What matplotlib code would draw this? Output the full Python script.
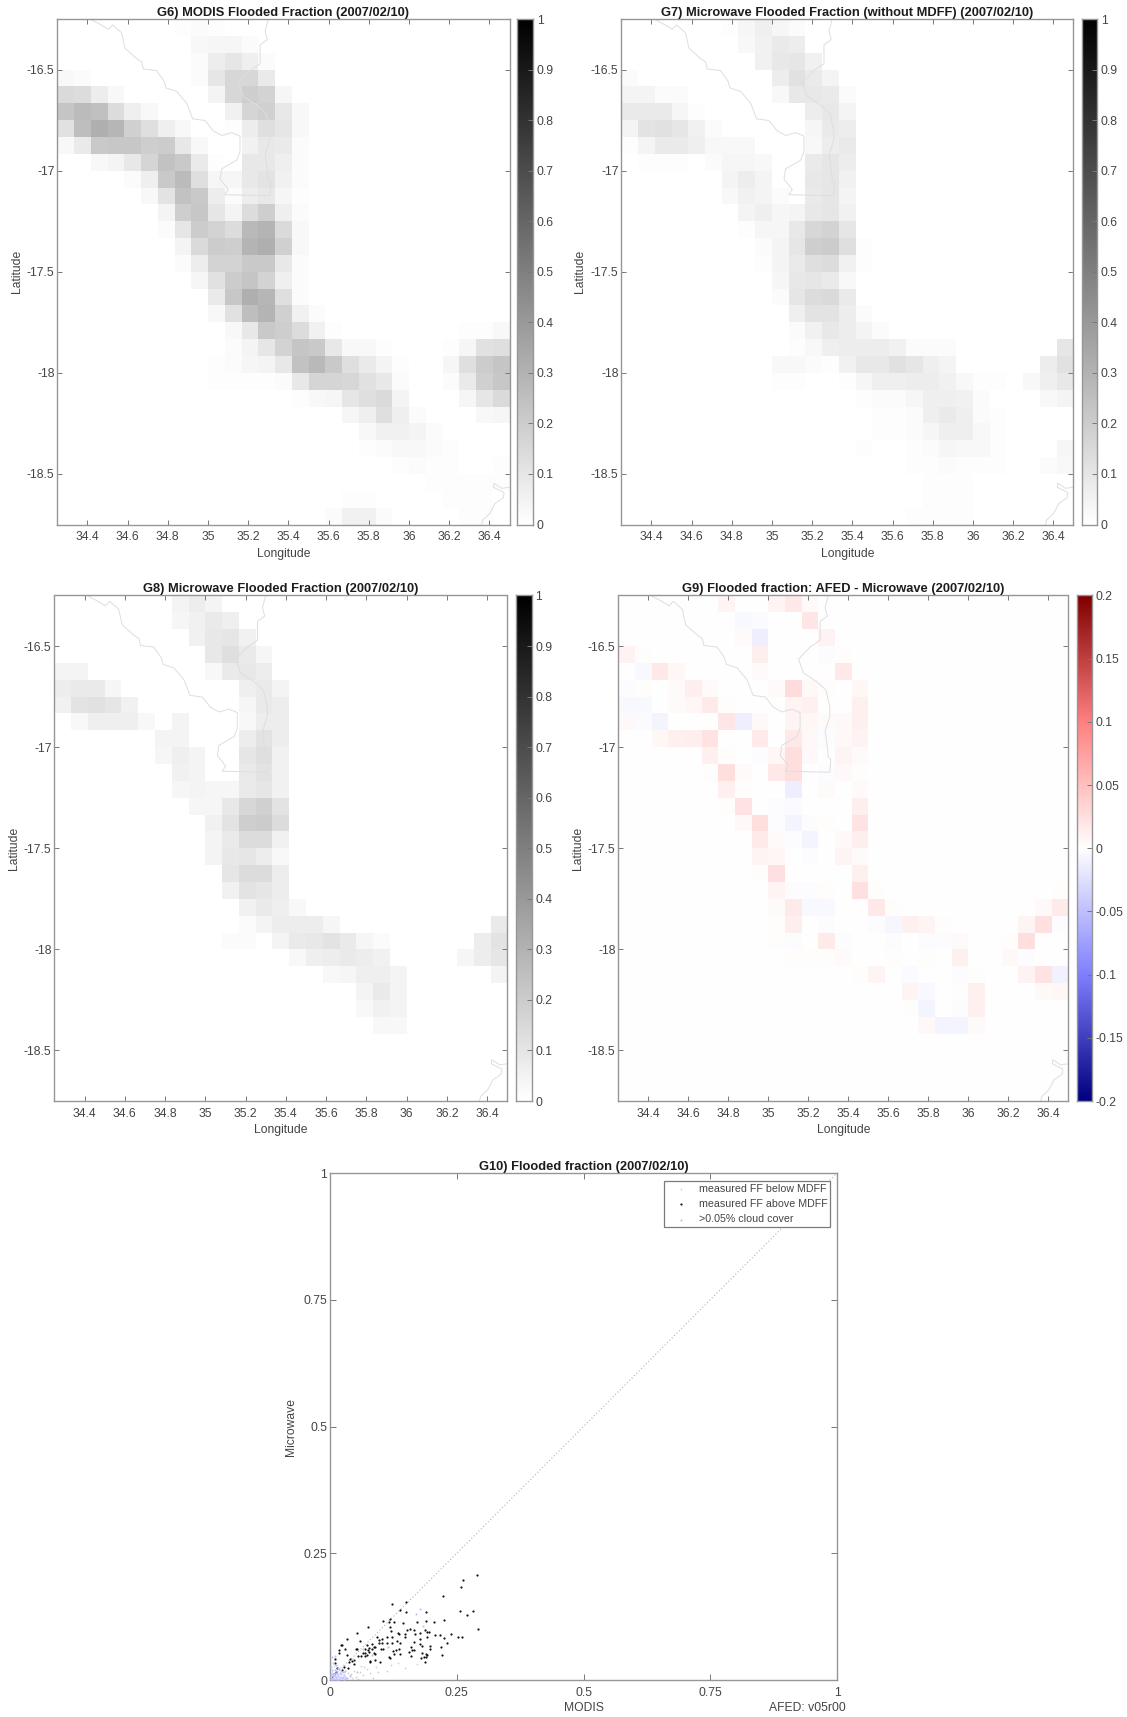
import numpy as np
import matplotlib
matplotlib.use("Agg")
import matplotlib.pyplot as plt
from matplotlib.colors import LinearSegmentedColormap

plt.rcParams['font.family'] = ['Liberation Sans', 'DejaVu Sans']
plt.rcParams['font.size'] = 8.7

W, H = 1127, 1717

# cell values, one dict per latitude row (north to south), column index: value
# G6/G7/G8 roughly in percent flooded (read a bit dark, hence 0.0092 below), G9 in thousandths
g6_cells = [
    {7:1, 8:2, 9:1},
    {8:3, 9:4, 10:4, 11:2},
    {8:2, 9:8, 10:11, 11:7, 12:2},
    {0:3, 1:2, 8:2, 9:11, 10:17, 11:17, 12:9},
    {0:16, 1:15, 2:8, 3:3, 9:5, 10:17, 11:21, 12:19, 13:4},
    {0:25, 1:29, 2:27, 3:15, 4:7, 5:3, 10:6, 11:18, 12:20, 13:10, 14:3},
    {0:13, 1:28, 2:34, 3:31, 4:20, 5:14, 6:7, 7:3, 10:1, 11:8, 12:14, 13:11, 14:3},
    {0:3, 1:9, 2:23, 3:24, 4:24, 5:21, 6:22, 7:10, 8:3, 11:6, 12:10, 13:9, 14:2},
    {2:3, 3:5, 4:10, 5:18, 6:26, 7:23, 8:9, 9:1, 11:10, 12:10, 13:7, 14:2},
    {4:2, 5:7, 6:23, 7:29, 8:14, 9:4, 10:4, 11:10, 12:12, 13:6, 14:2},
    {5:3, 6:12, 7:26, 8:23, 9:8, 10:2, 11:8, 12:10, 13:4, 14:1},
    {6:5, 7:21, 8:24, 9:11, 10:5, 11:15, 12:21, 13:7, 14:2},
    {6:2, 7:11, 8:22, 9:19, 10:15, 11:30, 12:32, 13:16, 14:3},
    {7:5, 8:16, 9:22, 10:21, 11:32, 12:34, 13:20, 14:3},
    {7:2, 8:8, 9:19, 10:19, 11:23, 12:23, 13:10, 14:2},
    {8:4, 9:13, 10:22, 11:25, 12:19, 13:7, 14:2},
    {9:9, 10:24, 11:34, 12:31, 13:14, 14:2},
    {9:3, 10:13, 11:28, 12:32, 13:20, 14:6, 15:2},
    {10:3, 11:10, 12:23, 13:21, 14:15, 15:6, 16:1, 24:1, 25:1, 26:3},
    {10:2, 11:5, 12:11, 13:19, 14:25, 15:23, 16:10, 17:3, 18:3, 19:1, 23:1, 24:4, 25:13, 26:14},
    {9:1, 10:2, 11:4, 12:5, 13:10, 14:26, 15:30, 16:23, 17:14, 18:9, 19:5, 20:1, 23:4, 24:14, 25:22, 26:25},
    {9:1, 10:1, 11:1, 12:1, 13:2, 14:10, 15:18, 16:18, 17:17, 18:13, 19:10, 20:2, 23:2, 24:9, 25:20, 26:24},
    {14:1, 15:3, 16:4, 17:11, 18:14, 19:16, 20:5, 24:4, 25:11, 26:16},
    {17:4, 18:7, 19:14, 20:7, 21:2, 25:3, 26:4},
    {18:3, 19:6, 20:6, 21:5, 22:2},
    {18:1, 19:2, 20:3, 21:3, 22:2, 23:1},
    {20:1, 21:2, 22:1, 23:1, 26:1},
    {22:1, 23:1, 24:1, 25:1, 26:1},
    {17:1, 18:1, 23:1, 24:1, 25:1},
    {16:2, 17:6, 18:6, 19:2, 24:1, 25:1},
]

g7_cells = [
    {6:1, 7:4, 8:7, 9:4, 10:2},
    {7:3, 8:6, 9:9, 10:8},
    {8:6, 9:10, 10:11, 11:6},
    {0:2, 9:8, 10:13, 11:9, 12:5},
    {0:5, 1:5, 2:2, 3:2, 9:3, 10:10, 11:10, 12:9, 13:2},
    {0:9, 1:9, 2:9, 3:4, 4:1, 11:8, 12:10, 13:5},
    {0:5, 1:12, 2:13, 3:11, 4:6, 5:2, 11:4, 12:9, 13:8},
    {0:1, 1:5, 2:9, 3:9, 4:7, 5:3, 6:3, 7:3, 11:3, 12:8, 13:9},
    {1:1, 2:1, 3:1, 5:2, 6:4, 7:4, 8:3, 11:9, 12:11, 13:8},
    {6:5, 7:8, 8:5, 11:10, 12:11, 13:6},
    {6:3, 7:6, 8:5, 9:2, 11:9, 12:11, 13:5},
    {7:5, 8:7, 9:4, 10:5, 11:10, 12:11, 13:6},
    {7:1, 8:4, 9:4, 10:10, 11:17, 12:19, 13:11},
    {8:2, 9:5, 10:11, 11:21, 12:22, 13:14, 14:1},
    {8:1, 9:5, 10:9, 11:14, 12:15, 13:6, 14:1},
    {9:4, 10:10, 11:11, 12:9, 13:3},
    {9:2, 10:11, 11:15, 12:16, 13:9},
    {10:7, 11:12, 12:12, 13:8, 14:2},
    {10:2, 11:6, 12:10, 13:8, 14:5, 15:2},
    {10:1, 11:3, 12:7, 13:8, 14:8, 15:8, 16:6, 17:2, 18:2, 19:2, 26:11},
    {9:3, 10:3, 11:2, 12:1, 13:6, 14:10, 15:10, 16:13, 17:11, 18:7, 19:5, 25:8, 26:13},
    {9:1, 10:1, 13:1, 14:4, 15:7, 16:7, 17:8, 18:8, 19:6, 20:3, 21:1, 22:1, 24:3, 25:7, 26:10},
    {14:1, 15:2, 16:2, 17:4, 18:7, 19:7, 20:6, 21:2, 25:3, 26:5},
    {15:1, 16:1, 17:2, 18:7, 19:9, 20:7, 21:2, 22:1},
    {15:1, 16:1, 17:2, 18:4, 19:7, 20:7, 21:3, 22:1},
    {14:1, 17:1, 18:2, 19:4, 20:3, 21:3, 22:1, 26:4},
    {17:1, 18:1, 19:2, 20:1, 21:1, 22:1, 25:2, 26:3},
    {18:1, 19:1, 20:1},
    {18:1, 19:1, 20:1},
    {17:1, 18:1, 19:1, 20:1},
]

g8_cells = [
    {7:5, 8:8, 9:5},
    {7:4, 8:6, 9:9, 10:7},
    {8:6, 9:10, 10:11, 11:6},
    {9:10, 10:14, 11:9, 12:4},
    {0:5, 1:5, 9:3, 10:9, 11:10, 12:8},
    {0:8, 1:9, 2:9, 3:4, 11:7, 12:9, 13:5},
    {0:6, 1:12, 2:13, 3:11, 4:6, 11:4, 12:9, 13:8},
    {1:3, 2:7, 3:7, 4:7, 5:3, 7:5, 11:3, 12:8, 13:8},
    {6:5, 7:5, 11:8, 12:12, 13:8},
    {6:4, 7:7, 8:5, 11:11, 12:14, 13:6},
    {7:6, 8:5, 11:9, 12:12, 13:6},
    {7:4, 8:5, 9:4, 10:4, 11:9, 12:11, 13:6},
    {8:4, 9:4, 10:10, 11:17, 12:20, 13:12},
    {9:6, 10:12, 11:21, 12:22, 13:15},
    {9:5, 10:9, 11:15, 12:15, 13:6},
    {9:5, 10:10, 11:11, 12:8, 13:3},
    {10:11, 11:15, 12:15, 13:8},
    {10:6, 11:12, 12:11, 13:8},
    {11:6, 12:9, 13:7, 14:3},
    {11:2, 12:5, 13:8, 14:8, 15:8, 16:4, 26:9},
    {10:2, 11:2, 13:5, 14:9, 15:10, 16:12, 17:9, 18:4, 19:2, 25:8, 26:12},
    {14:3, 15:7, 16:8, 17:9, 18:8, 19:6, 24:4, 25:8, 26:11},
    {16:3, 17:4, 18:7, 19:7, 20:5, 26:5},
    {18:5, 19:9, 20:5},
    {18:3, 19:6, 20:5},
    {19:3, 20:3},
    {}, {}, {}, {},
]

g9_cells = [
    {6:8, 9:8, 10:18, 11:4},
    {7:-5, 8:-4, 11:20},
    {7:4, 8:-14, 12:10},
    {0:10, 1:3, 8:13, 12:-3, 13:3},
    {1:-5, 2:18, 3:7, 8:4, 13:18},
    {0:-3, 1:3, 3:4, 4:14, 5:4, 9:4, 10:28, 11:6, 12:3, 14:7},
    {0:-6, 1:-6, 3:4, 4:7, 5:16, 6:3, 10:8, 11:12, 14:12},
    {0:6, 1:-4, 2:-8, 6:20, 7:-14, 8:5, 10:8, 11:7, 12:4, 13:6, 14:12},
    {2:7, 3:12, 4:14, 5:22, 8:17, 10:18, 11:5, 12:-2, 13:6, 14:10},
    {5:11, 6:3, 8:-3, 9:7, 10:25, 11:6, 13:8, 14:4},
    {5:3, 6:26, 7:4, 9:18, 10:25, 11:1, 12:-2, 13:5, 14:3},
    {6:11, 7:3, 10:-14, 12:4, 14:4},
    {6:3, 7:22, 9:-3, 10:-4, 14:13},
    {7:6, 8:26, 9:-3, 10:-8, 11:-3, 12:2, 14:22},
    {8:17, 9:4, 10:-3, 11:-9, 13:5, 14:14},
    {8:9, 9:7, 11:-3, 13:8, 14:4},
    {8:3, 9:24, 14:11},
    {9:8, 10:-3, 11:-3, 12:3, 14:24, 15:3, 26:3},
    {9:4, 10:16, 11:-5, 12:-5, 15:18, 16:3, 25:5, 26:16},
    {9:3, 10:14, 12:-3, 15:-3, 16:-7, 17:12, 18:8, 19:3, 24:9, 25:24, 26:-3},
    {9:3, 10:-3, 12:16, 13:-2, 16:-2, 18:-2, 19:-2, 20:4, 23:3, 24:25},
    {10:2, 11:2, 12:2, 13:4, 16:2, 18:3, 20:12, 23:5, 24:-2},
    {14:2, 15:8, 17:-4, 20:-3, 21:2, 24:10, 25:22, 26:-10},
    {17:8, 18:-6, 20:3, 21:12, 25:5, 26:7},
    {17:3, 18:-9, 20:-2, 21:12},
    {18:5, 19:-8, 20:-8, 21:4},
    {19:1, 20:1},
    {}, {}, {},
]

# country borders
border1_lon = [34.413, 34.462, 34.504, 34.525, 34.570, 34.587, 34.645, 34.670, 34.678, 34.744, 34.781,
               34.791, 34.844, 34.894, 34.924, 34.985, 35.026, 35.068, 35.118, 35.159, 35.159, 35.143,
               35.068, 35.060, 35.101, 35.084, 35.308, 35.312, 35.300, 35.292, 35.284, 35.308, 35.308,
               35.289, 35.242, 35.176, 35.151, 35.209, 35.259, 35.259, 35.295, 35.284, 35.300]
border1_lat = [-16.25, -16.276, -16.301, -16.279, -16.318, -16.395, -16.446, -16.463, -16.497, -16.505, -16.557,
               -16.591, -16.608, -16.667, -16.744, -16.752, -16.803, -16.826, -16.812, -16.829, -16.906, -16.948,
               -16.991, -17.042, -17.093, -17.119, -17.124, -17.059, -17.050, -16.974, -16.923, -16.846, -16.803,
               -16.718, -16.676, -16.633, -16.565, -16.505, -16.471, -16.378, -16.352, -16.310, -16.25]
border2_lon = [36.50, 36.461, 36.423, 36.420, 36.473, 36.470, 36.428, 36.403, 36.367, 36.362]
border2_lat = [-18.566, -18.571, -18.546, -18.566, -18.592, -18.617, -18.646, -18.694, -18.728, -18.75]

# scatter G10
above_x = [.289,.262,.258,.222,.150,.123,.139,.149,.189,.257,.283,.270,.119,.104,.224,.116,.126,.144,.172,.189,
           .205,.074,.119,.291,.152,.157,.165,.187,.191,.195,.120,.134,.136,.053,.238,.207,.216,.147,.147,.168,
           .178,.093,.034,.113,.123,.096,.103,.191,.178,.225,.253,.260,.060,.083,.097,.103,.113,.122,.132,.138,
           .165,.178,.230,.022,.024,.073,.088,.076,.100,.105,.124,.130,.136,.160,.162,.181,.197,.198,.218,.018,
           .030,.051,.054,.070,.075,.082,.086,.156,.166,.182,.189,.220,.018,.034,.065,.070,.077,.086,.089,.127,
           .138,.160,.180,.185,.189,.191,.055,.061,.069,.072,.116,.118,.040,.048,.044,.037,.089,.078,.099,.078,
           .187,.009,.009,.027,.047,.036,.024,.014,.007,.003,.012]
above_y = [.208,.198,.183,.165,.154,.150,.138,.134,.135,.136,.137,.129,.120,.116,.118,.114,.115,.112,.115,.116,
           .115,.105,.104,.101,.099,.101,.099,.098,.095,.094,.096,.093,.090,.092,.090,.089,.089,.090,.084,.091,
           .092,.085,.080,.084,.084,.079,.080,.085,.081,.083,.084,.084,.076,.071,.072,.072,.072,.073,.076,.072,
           .074,.071,.072,.070,.069,.070,.066,.064,.062,.062,.058,.060,.061,.066,.060,.068,.068,.062,.066,.060,
           .062,.061,.061,.061,.060,.061,.066,.056,.059,.053,.051,.049,.053,.050,.053,.053,.056,.053,.052,.052,
           .052,.047,.043,.046,.046,.050,.047,.047,.048,.050,.045,.043,.041,.040,.038,.035,.040,.038,.035,.035,
           .036,.041,.034,.026,.031,.024,.020,.023,.012,.005,.015]
below_x = [.062,.068,.121,.134,.147,.172,.095,.112,.078,.085,.052,.032,.026,.039,.059,.072,.048,.030,.044,.018,
           .066,.090,.028,.012,.036,.022,.055,.008,.016,.042]
below_y = [.027,.026,.030,.033,.023,.032,.015,.018,.013,.004,.005,.001,.030,.009,.015,.022,.018,.006,.003,.024,
           .010,.026,.016,.003,.014,.004,.002,.028,.012,.011]
cloud_x = [.170,.178,.184,.115,.083,.065,.009,.003,.045,.054,.022,.011,.006,.002,.015,.019,.004,.026,.030,.012,
           .008,.001,.017,.023,.005,.014,.028,.010,.003,.007,.021,.016,.001,.009,.034,.013,.025,.002,.006,.018,
           .011,.004,.039,.031,.020,.008,.015,.003,.027,.012]
cloud_y = [.131,.141,.106,.066,.050,.061,.048,.045,.041,.015,.018,.030,.033,.026,.008,.014,.020,.006,.018,.002,
           .012,.009,.022,.003,.004,.017,.010,.007,.014,.001,.012,.024,.002,.019,.004,.011,.016,.005,.008,.001,
           .005,.001,.008,.003,.006,.009,.002,.011,.002,.013]

lon_ticks = [34.4, 34.6, 34.8, 35, 35.2, 35.4, 35.6, 35.8, 36, 36.2, 36.4]
lat_ticks = [-16.5, -17, -17.5, -18, -18.5]
frac_ticks = [0, 0.1, 0.2, 0.3, 0.4, 0.5, 0.6, 0.7, 0.8, 0.9, 1]
diff_ticks = [-0.2, -0.15, -0.1, -0.05, 0, 0.05, 0.1, 0.15, 0.2]
scatter_ticks = [0, 0.25, 0.5, 0.75, 1]

lon_edges = np.linspace(34.25, 36.5, 28)
lat_edges = np.linspace(-16.25, -18.75, 31)

SPINE = '#969696'
TXT = '#444444'
TITLE = '#1c1c1c'
BORDER = '#dedede'

gray_r = LinearSegmentedColormap.from_list('gray_r', ['#ffffff', '#000000'])
diff_cmap = LinearSegmentedColormap.from_list(
    'diff', ['#000080', '#8080ff', '#ffffff', '#ff8080', '#800000'])


def to_grid(cells, scale):
    grid = np.zeros((30, 27))
    for r, row in enumerate(cells):
        for c, v in row.items():
            grid[r, c] = v * scale
    return grid


def px_axes(fig, x0, x1, y0, y1):
    return fig.add_axes([x0 / W, 1 - y1 / H, (x1 - x0) / W, (y1 - y0) / H])


def style(ax, length=3.5):
    for s in ax.spines.values():
        s.set_color(SPINE)
        s.set_linewidth(1.0)
    ax.tick_params(direction='in', top=True, right=True, length=length, width=0.7,
                   color='#777777', labelcolor=TXT)
    ax.tick_params(axis='x', pad=5)
    ax.tick_params(axis='y', pad=2)


def fmt(v):
    return ('%g' % v)


def map_panel(fig, grid, title, box, cbox, ylab_x, cmap, vmin, vmax, cticks):
    ax = px_axes(fig, *box)
    ax.pcolormesh(lon_edges, lat_edges, grid, cmap=cmap, vmin=vmin, vmax=vmax, rasterized=True)
    ax.plot(border1_lon, border1_lat, color=BORDER, lw=0.7)
    ax.plot(border2_lon, border2_lat, color=BORDER, lw=0.7)
    ax.set_xlim(34.25, 36.5)
    ax.set_ylim(-18.75, -16.25)
    ax.set_xticks(lon_ticks)
    ax.set_xticklabels([fmt(v) for v in lon_ticks])
    ax.set_yticks(lat_ticks)
    ax.set_yticklabels([fmt(v) for v in lat_ticks])
    style(ax)
    ax.set_xlabel('Longitude', color=TXT, labelpad=3)
    ax.set_ylabel('Latitude', color=TXT)
    ax.yaxis.set_label_coords((ylab_x + 7 - box[0]) / (box[1] - box[0]), 0.5)
    ax.set_title(title, fontweight='bold', fontsize=9.3, color=TITLE, pad=2.5)

    cax = px_axes(fig, *cbox)
    vals = np.linspace(vmin, vmax, 256).reshape(-1, 1)
    cax.imshow(vals, origin='lower', aspect='auto', cmap=cmap, vmin=vmin, vmax=vmax,
               extent=[0, 1, vmin, vmax])
    cax.set_xticks([])
    cax.yaxis.tick_right()
    cax.set_yticks(cticks)
    cax.set_yticklabels([fmt(v) for v in cticks])
    for s in cax.spines.values():
        s.set_color(SPINE)
        s.set_linewidth(1.0)
    cax.tick_params(direction='in', length=3.5, width=0.7, color='#777777',
                    labelcolor=TXT, pad=2.5, left=False, right=True)
    return ax


fig = plt.figure(figsize=(W / 100, H / 100), dpi=100)

map_panel(fig, to_grid(g6_cells, 0.0092), 'G6) MODIS Flooded Fraction (2007/02/10)',
          (57.3, 509.5, 19, 524.5), (517.3, 533.3, 19, 524.5), 16, gray_r, 0, 1, frac_ticks)
map_panel(fig, to_grid(g7_cells, 0.0092), 'G7) Microwave Flooded Fraction (without MDFF) (2007/02/10)',
          (621.3, 1073.3, 19, 524.5), (1081.7, 1097.3, 19, 524.5), 579, gray_r, 0, 1, frac_ticks)
map_panel(fig, to_grid(g8_cells, 0.0092), 'G8) Microwave Flooded Fraction (2007/02/10)',
          (54.3, 507.3, 595.5, 1101), (515.7, 531.7, 595.5, 1101), 13, gray_r, 0, 1, frac_ticks)
map_panel(fig, to_grid(g9_cells, 0.001), 'G9) Flooded fraction: AFED - Microwave (2007/02/10)',
          (618.3, 1068.3, 595.5, 1101), (1076.7, 1092.3, 595.5, 1101), 577, diff_cmap, -0.2, 0.2, diff_ticks)

# G10 scatter
ax = px_axes(fig, 330, 837, 1173, 1680)
ax.plot([0, 1], [0, 1], color='#b4b4b4', lw=0.8, ls=(0, (1, 2)), zorder=1)
ax.scatter(below_x, below_y, s=1.5, color='#cfcfcf', linewidths=0, label='measured FF below MDFF', zorder=2)
ax.scatter(above_x, above_y, s=2.5, color='#111111', linewidths=0, label='measured FF above MDFF', zorder=3)
ax.scatter(cloud_x, cloud_y, s=2.5, color='#c4c4ff', linewidths=0, label='>0.05% cloud cover', zorder=4)
ax.set_xlim(0, 1)
ax.set_ylim(0, 1)
ax.set_xticks(scatter_ticks)
ax.set_xticklabels([fmt(v) for v in scatter_ticks])
ax.set_yticks(scatter_ticks)
ax.set_yticklabels([fmt(v) for v in scatter_ticks])
style(ax, length=4.5)
ax.set_xlabel('MODIS', color=TXT, labelpad=2)
ax.set_ylabel('Microwave', color=TXT, labelpad=5)
ax.set_title('G10) Flooded fraction (2007/02/10)', fontweight='bold', fontsize=9.3, color=TITLE, pad=2.5)
leg = ax.legend(loc='upper right', bbox_to_anchor=(830 / W, 1 - 1181 / H), bbox_transform=fig.transFigure,
                frameon=True, fancybox=False, framealpha=1, edgecolor='#7a7a7a', fontsize=7.7,
                borderpad=0.25, labelspacing=0.5, handletextpad=0.3, handlelength=2.7, borderaxespad=0)
leg.get_frame().set_linewidth(0.9)
leg.set_zorder(10)
for t in leg.get_texts():
    t.set_color(TXT)
fig.text(807 / W, 1 - 1708 / H, 'AFED: v05r00', color=TXT, ha='center', va='center')

fig.savefig('out.png', dpi=100)
plt.close(fig)
